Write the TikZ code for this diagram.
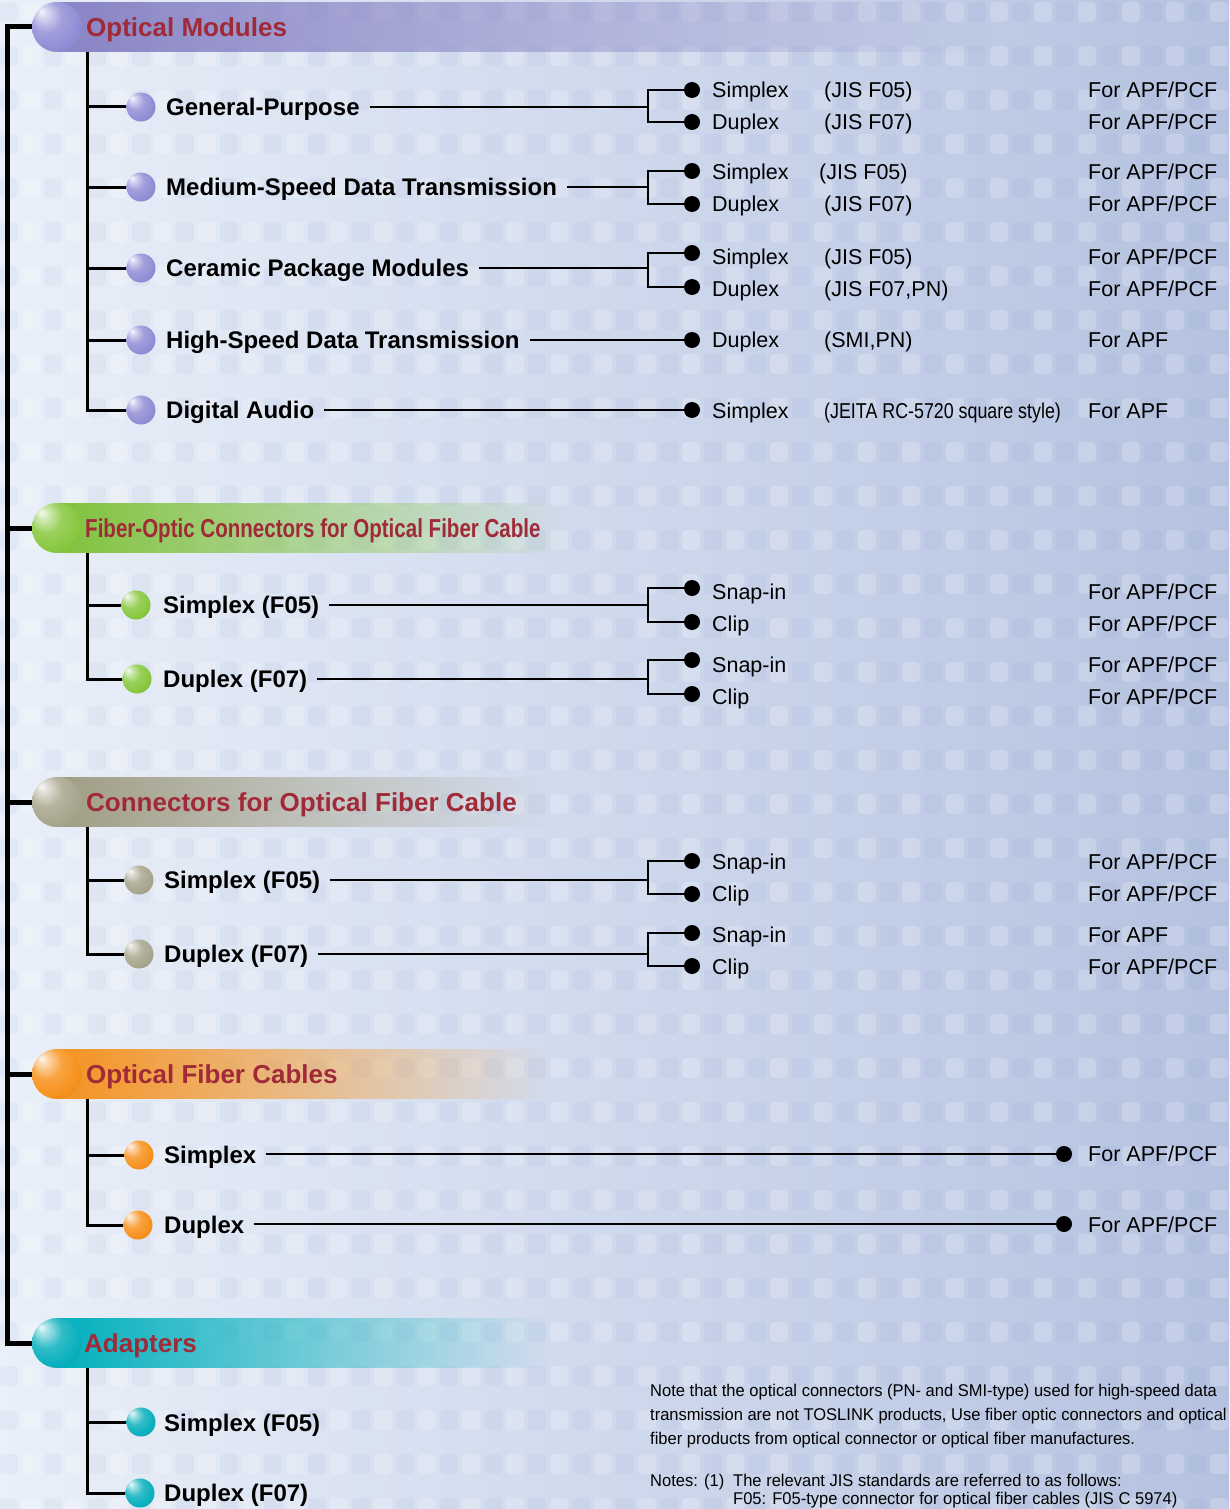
\documentclass[tikz,border=0pt]{standalone}
\usepackage{fontspec}
\setmainfont{Liberation Sans}
\newfontfamily\hdrnarrow[FakeStretch=0.79]{Liberation Sans}
\newfontfamily\labnarrow[FakeStretch=0.83]{Liberation Sans}
\newfontfamily\notefont[FakeStretch=0.972]{Liberation Sans}
\usetikzlibrary{fadings}
\definecolor{bgleft}{RGB}{234,240,249}
\definecolor{bgright}{RGB}{180,194,224}
\definecolor{patdark}{RGB}{120,140,200}
\definecolor{hdrred}{RGB}{160,42,56}
\definecolor{omc}{RGB}{132,126,194}
\definecolor{omball}{RGB}{146,142,214}
\definecolor{foc}{RGB}{128,194,60}
\definecolor{foball}{RGB}{136,200,64}
\definecolor{coc}{RGB}{160,157,132}
\definecolor{coball}{RGB}{168,166,142}
\definecolor{ofc}{RGB}{245,146,32}
\definecolor{ofball}{RGB}{247,146,30}
\definecolor{adc}{RGB}{0,176,188}
\definecolor{adball}{RGB}{12,176,190}
\colorlet{sphcol}{gray}
\pgfdeclareradialshading[sphcol]{sph}{\pgfpoint{-16bp}{16bp}}{%
  color(0bp)=(sphcol!8!white); color(6bp)=(sphcol!40!white);
  color(16bp)=(sphcol!85!white); color(28bp)=(sphcol);
  color(50bp)=(sphcol!80!black)}
\tikzfading[name=fadelong, left color=transparent!5, middle color=transparent!35, right color=transparent!100]
\tikzfading[name=fadeshort, left color=transparent!0, middle color=transparent!30, right color=transparent!100]
\tikzset{
  hdr/.style={anchor=west, inner sep=0pt, text height=18.6pt, text depth=0pt, text=hdrred, font=\fontsize{26}{30}\selectfont\bfseries},
  item/.style={anchor=west, inner sep=0pt, text height=17.2pt, text depth=0pt, font=\fontsize{24}{28}\selectfont\bfseries},
  lab/.style={anchor=west, inner sep=0pt, text height=15.4pt, text depth=0pt, font=\fontsize{21.5}{26}\selectfont},
  note/.style={anchor=west, inner sep=0pt, text height=12.2pt, text depth=0pt, font=\fontsize{17}{20}\notefont},
  dot/.style={circle, fill=black, minimum size=16pt, inner sep=0pt},
  sph/.style={shade, shading=sph, /utils/exec={\colorlet{sphcol}{#1}}},
  hsph/.style={circle, minimum size=50pt, inner sep=0pt, sph=#1},
  ssph/.style={circle, minimum size=29pt, inner sep=0pt, sph=#1},
  trunk/.style={line width=5pt},
  sub/.style={line width=3pt},
  conn/.style={line width=2.5pt}
}
\begin{document}
\begin{tikzpicture}[x=1pt,y=-1pt]
\useasboundingbox (0,0) rectangle (1229,1509);
\clip (0,0) rectangle (1229,1509);
\shade[left color=bgleft, right color=bgright] (0,0) rectangle (1229,1509);
% background texture
\foreach \i in {0,...,28} {
  \foreach \j in {0,...,34} {
    \fill[white, opacity=0.2, rounded corners=4pt]
      ({\i*44+22},{\j*44+2}) rectangle ++(18,20);
    \fill[patdark, opacity=0.07, rounded corners=4pt]
      ({\i*44},{\j*44+2}) rectangle ++(18,20);
  }
}

% ---------------- header bars
\fill[omc, path fading=fadelong] (57,2) rectangle (1000,52);
\fill[foc, path fading=fadeshort] (57,503) rectangle (570,553);
\fill[coc, path fading=fadeshort] (57,777) rectangle (550,827);
\fill[ofc, path fading=fadeshort] (57,1049) rectangle (550,1099);
\fill[adc, path fading=fadeshort] (57,1318) rectangle (550,1368);

\node[hsph=omball] (omsph) at (57,27) {};
\node[hsph=foball] (fosph) at (57,528) {};
\node[hsph=coball] (cosph) at (57,802) {};
\node[hsph=ofball] (ofsph) at (57,1074) {};
\node[hsph=adball] (adsph) at (57,1343) {};

\node[hdr] (omt) at (86,27) {Optical Modules};
\node[hdr] (fot) at (85,528) {\hdrnarrow\bfseries Fiber-Optic Connectors for Optical Fiber Cable};
\node[hdr] (cot) at (86,802) {Connectors for Optical Fiber Cable};
\node[hdr] (oft) at (86,1074) {Optical Fiber Cables};
\node[hdr] (adt) at (84,1343) {Adapters};

% ---------------- trunk
\coordinate (tt) at (7.5,27);
\coordinate (tb) at (7.5,1343);
\draw[trunk] (omsph.west) -- (tt) -- (tb) -- (adsph.west);
\draw[trunk] (tt |- fosph) -- (fosph.west);
\draw[trunk] (tt |- cosph) -- (cosph.west);
\draw[trunk] (tt |- ofsph) -- (ofsph.west);

% ================= Optical Modules
\node[ssph=omball] (om1s) at (141,107) {};
\node[ssph=omball] (om2s) at (141,187) {};
\node[ssph=omball] (om3s) at (141,268) {};
\node[ssph=omball] (om4s) at (141,340) {};
\node[ssph=omball] (om5s) at (141,410) {};
\node[item] (om1) at (166,107) {General-Purpose};
\node[item] (om2) at (166,187) {Medium-Speed Data Transmission};
\node[item] (om3) at (166,268) {Ceramic Package Modules};
\node[item] (om4) at (166,340) {High-Speed Data Transmission};
\node[item] (om5) at (166,410) {Digital Audio};
\coordinate (omv) at (87,52);
\draw[sub] (omv) |- (om5s);
\foreach \s in {om1s,om2s,om3s,om4s} \draw[sub] (omv |- \s) -- (\s);

\node[dot] (om1a) at (692,90) {};
\node[dot] (om1b) at (692,122) {};
\node[dot] (om2a) at (692,171) {};
\node[dot] (om2b) at (692,204) {};
\node[dot] (om3a) at (692,253) {};
\node[dot] (om3b) at (692,287) {};
\node[dot] (om4a) at (692,340) {};
\node[dot] (om5a) at (692,410) {};

\draw[conn] ([xshift=10pt]om1.east) -- (648,107) coordinate (om1j);
\draw[conn] (om1a) -| (om1j) |- (om1b);
\draw[conn] ([xshift=10pt]om2.east) -- (648,187) coordinate (om2j);
\draw[conn] (om2a) -| (om2j) |- (om2b);
\draw[conn] ([xshift=10pt]om3.east) -- (648,268) coordinate (om3j);
\draw[conn] (om3a) -| (om3j) |- (om3b);
\draw[conn] ([xshift=10pt]om4.east) -- (om4a);
\draw[conn] ([xshift=10pt]om5.east) -- (om5a);

\node[lab] at (712,90) {Simplex};
\node[lab] at (824,90) {(JIS F05)};
\node[lab] at (1088,90) {For APF/PCF};
\node[lab] at (712,122) {Duplex};
\node[lab] at (824,122) {(JIS F07)};
\node[lab] at (1088,122) {For APF/PCF};
\node[lab] at (712,172) {Simplex};
\node[lab] at (819,172) {(JIS F05)};
\node[lab] at (1088,172) {For APF/PCF};
\node[lab] at (712,204) {Duplex};
\node[lab] at (824,204) {(JIS F07)};
\node[lab] at (1088,204) {For APF/PCF};
\node[lab] at (712,257) {Simplex};
\node[lab] at (824,257) {(JIS F05)};
\node[lab] at (1088,257) {For APF/PCF};
\node[lab] at (712,289) {Duplex};
\node[lab] at (824,289) {(JIS F07,PN)};
\node[lab] at (1088,289) {For APF/PCF};
\node[lab] at (712,340) {Duplex};
\node[lab] at (824,340) {(SMI,PN)};
\node[lab] at (1088,340) {For APF};
\node[lab] at (712,411) {Simplex};
\node[lab] at (824,411) {\labnarrow (JEITA RC-5720 square style)};
\node[lab] at (1088,411) {For APF};

% ================= Fiber-Optic Connectors
\node[ssph=foball] (fo1s) at (136,605) {};
\node[ssph=foball] (fo2s) at (137,679) {};
\node[item] (fo1) at (163,605) {Simplex (F05)};
\node[item] (fo2) at (163,679) {Duplex (F07)};
\coordinate (fov) at (87,553);
\draw[sub] (fov) |- (fo2s);
\draw[sub] (fov |- fo1s) -- (fo1s);
\node[dot] (fo1a) at (692,588) {};
\node[dot] (fo1b) at (692,622) {};
\node[dot] (fo2a) at (692,660) {};
\node[dot] (fo2b) at (692,694) {};
\draw[conn] ([xshift=10pt]fo1.east) -- (648,605) coordinate (fo1j);
\draw[conn] (fo1a) -| (fo1j) |- (fo1b);
\draw[conn] ([xshift=10pt]fo2.east) -- (648,679) coordinate (fo2j);
\draw[conn] (fo2a) -| (fo2j) |- (fo2b);
\node[lab] at (712,592) {Snap-in};
\node[lab] at (1088,592) {For APF/PCF};
\node[lab] at (712,624) {Clip};
\node[lab] at (1088,624) {For APF/PCF};
\node[lab] at (712,665) {Snap-in};
\node[lab] at (1088,665) {For APF/PCF};
\node[lab] at (712,697) {Clip};
\node[lab] at (1088,697) {For APF/PCF};

% ================= Connectors for Optical Fiber Cable
\node[ssph=coball] (co1s) at (139,880) {};
\node[ssph=coball] (co2s) at (139,954) {};
\node[item] (co1) at (164,880) {Simplex (F05)};
\node[item] (co2) at (164,954) {Duplex (F07)};
\coordinate (cov) at (87,827);
\draw[sub] (cov) |- (co2s);
\draw[sub] (cov |- co1s) -- (co1s);
\node[dot] (co1a) at (692,861) {};
\node[dot] (co1b) at (692,894) {};
\node[dot] (co2a) at (692,933) {};
\node[dot] (co2b) at (692,966) {};
\draw[conn] ([xshift=10pt]co1.east) -- (648,880) coordinate (co1j);
\draw[conn] (co1a) -| (co1j) |- (co1b);
\draw[conn] ([xshift=10pt]co2.east) -- (648,954) coordinate (co2j);
\draw[conn] (co2a) -| (co2j) |- (co2b);
\node[lab] at (712,862) {Snap-in};
\node[lab] at (1088,862) {For APF/PCF};
\node[lab] at (712,894) {Clip};
\node[lab] at (1088,894) {For APF/PCF};
\node[lab] at (712,935) {Snap-in};
\node[lab] at (1088,935) {For APF};
\node[lab] at (712,967) {Clip};
\node[lab] at (1088,967) {For APF/PCF};

% ================= Optical Fiber Cables
\node[ssph=ofball] (of1s) at (139,1155) {};
\node[ssph=ofball] (of2s) at (138,1225) {};
\node[item] (of1) at (164,1155) {Simplex};
\node[item] (of2) at (164,1225) {Duplex};
\coordinate (ofv) at (87,1099);
\draw[sub] (ofv) |- (of2s);
\draw[sub] (ofv |- of1s) -- (of1s);
\node[dot] (of1a) at (1064,1154) {};
\node[dot] (of2a) at (1064,1224) {};
\draw[conn] ([xshift=10pt]of1.east |- of1a) -- (of1a);
\draw[conn] ([xshift=10pt]of2.east |- of2a) -- (of2a);
\node[lab] at (1088,1154) {For APF/PCF};
\node[lab] at (1088,1225) {For APF/PCF};

% ================= Adapters
\node[ssph=adball] (ad1s) at (141,1422) {};
\node[ssph=adball] (ad2s) at (140,1493) {};
\node[item] (ad1) at (164,1423) {Simplex (F05)};
\node[item] (ad2) at (164,1493) {Duplex (F07)};
\coordinate (adv) at (87,1368);
\draw[sub] (adv) |- (ad2s);
\draw[sub] (adv |- ad1s) -- (ad1s);

% ================= Notes
\node[note] at (650,1390) {Note that the optical connectors (PN- and SMI-type) used for high-speed data};
\node[note] at (650,1414) {transmission are not TOSLINK products, Use fiber optic connectors and optical};
\node[note] at (650,1438) {fiber products from optical connector or optical fiber manufactures.};
\node[note] at (650,1480) {Notes: (1)};
\node[note] at (733,1480) {The relevant JIS standards are referred to as follows:};
\node[note] at (733,1498) {F05: F05-type connector for optical fiber cables (JIS C 5974)};
\end{tikzpicture}
\end{document}
